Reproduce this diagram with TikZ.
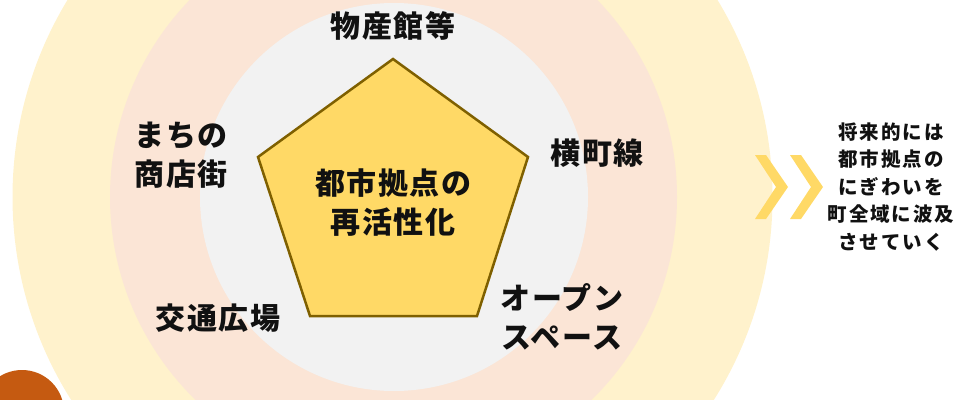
\documentclass[tikz,border=0pt]{standalone}
\usepackage{fontspec}
\newfontfamily\jp{Noto Sans CJK JP}
\definecolor{outerc}{HTML}{FFF2CC}
\definecolor{midc}{HTML}{FBE5D6}
\definecolor{innerc}{HTML}{F2F2F2}
\definecolor{pentfill}{HTML}{FFD966}
\definecolor{pentline}{HTML}{7F6000}
\definecolor{brownc}{HTML}{C55A11}
\definecolor{txt}{HTML}{111111}
\begin{document}
\begin{tikzpicture}[x=1pt,y=-1pt,
  lbl/.style={font=\jp\bfseries\fontsize{30}{39}\selectfont\addfontfeature{LetterSpace=5}, align=center, text=txt, inner sep=0pt},
  small/.style={font=\jp\bfseries\fontsize{19.5}{27.5}\selectfont\addfontfeature{LetterSpace=10}, align=center, text=txt, inner sep=0pt},
  chev/.style={fill=pentfill},
  pent/.style={fill=pentfill, draw=pentline, line width=2.5pt, line join=miter}]
\useasboundingbox (0,0) rectangle (964,399);
\begin{scope}
\clip (0,0) rectangle (964,399);
\fill[outerc] (392.5,197) circle (380pt);
\fill[midc] (393.5,197) circle (283.5pt);
\fill[innerc] (394,197) circle (194pt);
\fill[brownc] (22,412) circle (42pt);
\end{scope}
\draw[pent] (393,59) -- (528,157) -- (477,316) -- (310,316) -- (258,157) -- cycle;
\node[lbl] (core) at (393,203) {都市拠点の\\再活性化};
\node[lbl] (bussan) at (393,26) {物産館等};
\node[lbl] (shoten) at (181,155) {まちの\\商店街};
\node[lbl] (yoko) at (597,153) {横町線};
\node[lbl] (kotsu) at (218,318) {交通広場};
\node[lbl] (open) at (562,317) {オープン\\スペース};
\fill[chev] (755,155) -- (766,155) -- (788,187) -- (766,219) -- (755,219) -- (776,187) -- cycle;
\fill[chev] (790,155) -- (801,155) -- (823,187) -- (801,219) -- (790,219) -- (811,187) -- cycle;
\node[small] (future) at (891,187) {将来的には\\都市拠点の\\にぎわいを\\町全域に波及\\させていく};
\end{tikzpicture}
\end{document}
